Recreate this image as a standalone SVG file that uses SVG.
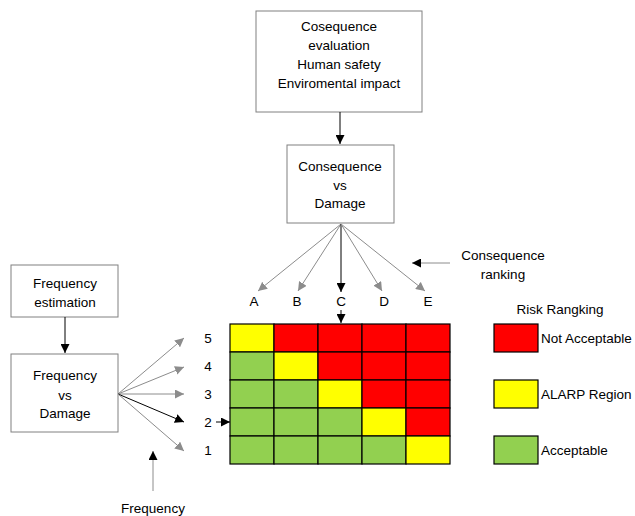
<svg xmlns="http://www.w3.org/2000/svg" width="635" height="516" viewBox="0 0 635 516">
<style>
text{font-family:"Liberation Sans",Arial,sans-serif;font-size:13.5px;fill:#000;text-anchor:middle;dominant-baseline:central}
.box{fill:#fff;stroke:#808080;stroke-width:1}
.cell{stroke:#000;stroke-width:1.2}
.r{fill:#ff0000}.y{fill:#ffff00}.g{fill:#92d050}
.gl{stroke:#8c8c8c;stroke-width:1;fill:none}
.bl{stroke:#000;stroke-width:1;fill:none}
.lt{text-anchor:start}
</style>
<defs>
<marker id="ag" viewBox="0 0 10 10" refX="10" refY="5" markerWidth="9" markerHeight="9" markerUnits="userSpaceOnUse" orient="auto"><path d="M0,0L10,5L0,10z" fill="#8c8c8c"/></marker>
<marker id="ab" viewBox="0 0 10 10" refX="10" refY="5" markerWidth="9" markerHeight="9" markerUnits="userSpaceOnUse" orient="auto"><path d="M0,0L10,5L0,10z" fill="#000"/></marker>
</defs>
<g id="n-evaluation"><rect class="box" x="256" y="11" width="166" height="101"/>
<text x="339" y="26">Cosequence</text><text x="339" y="45">evaluation</text><text x="339" y="64">Human safety</text><text x="339" y="83">Enviromental impact</text></g>
<g id="n-consequence"><rect class="box" x="287" y="145" width="107" height="78"/>
<text x="340" y="166">Consequence</text><text x="340" y="185">vs</text><text x="340" y="203">Damage</text></g>
<g id="n-freqest"><rect class="box" x="11" y="265" width="107" height="52"/>
<text x="65" y="283">Frequency</text><text x="65" y="302">estimation</text></g>
<g id="n-freqdmg"><rect class="box" x="11" y="354" width="107" height="78"/>
<text x="65" y="375">Frequency</text><text x="65" y="395">vs</text><text x="65" y="413">Damage</text></g>
<g id="labels">
<text x="503" y="255">Consequence</text><text x="503" y="274">ranking</text>
<text x="560" y="309">Risk Rangking</text>
<text x="254" y="301">A</text><text x="297" y="301">B</text><text x="341" y="301">C</text><text x="384" y="301">D</text><text x="428" y="301">E</text>
<text x="208" y="338">5</text><text x="208" y="366">4</text><text x="208" y="394">3</text><text x="208" y="422">2</text><text x="208" y="450">1</text>
<text x="153" y="508">Frequency</text>
</g>
<g id="n-matrix">
<rect class="cell y" x="230" y="324" width="44" height="28"/><rect class="cell r" x="274" y="324" width="44" height="28"/><rect class="cell r" x="318" y="324" width="44" height="28"/><rect class="cell r" x="362" y="324" width="44" height="28"/><rect class="cell r" x="406" y="324" width="44" height="28"/>
<rect class="cell g" x="230" y="352" width="44" height="28"/><rect class="cell y" x="274" y="352" width="44" height="28"/><rect class="cell r" x="318" y="352" width="44" height="28"/><rect class="cell r" x="362" y="352" width="44" height="28"/><rect class="cell r" x="406" y="352" width="44" height="28"/>
<rect class="cell g" x="230" y="380" width="44" height="28"/><rect class="cell g" x="274" y="380" width="44" height="28"/><rect class="cell y" x="318" y="380" width="44" height="28"/><rect class="cell r" x="362" y="380" width="44" height="28"/><rect class="cell r" x="406" y="380" width="44" height="28"/>
<rect class="cell g" x="230" y="408" width="44" height="28"/><rect class="cell g" x="274" y="408" width="44" height="28"/><rect class="cell g" x="318" y="408" width="44" height="28"/><rect class="cell y" x="362" y="408" width="44" height="28"/><rect class="cell r" x="406" y="408" width="44" height="28"/>
<rect class="cell g" x="230" y="436" width="44" height="28"/><rect class="cell g" x="274" y="436" width="44" height="28"/><rect class="cell g" x="318" y="436" width="44" height="28"/><rect class="cell g" x="362" y="436" width="44" height="28"/><rect class="cell y" x="406" y="436" width="44" height="28"/>
</g>
<g id="n-legend">
<rect class="cell r" x="494" y="324" width="44" height="28"/><text class="lt" x="541" y="338">Not Acceptable</text>
<rect class="cell y" x="494" y="380" width="44" height="28"/><text class="lt" x="541" y="394">ALARP Region</text>
<rect class="cell g" x="494" y="436" width="44" height="28"/><text class="lt" x="541" y="450">Acceptable</text>
</g>
<g id="connectors">
<line class="bl" x1="340" y1="112" x2="340" y2="144" marker-end="url(#ab)"/>
<line class="gl" x1="341" y1="224" x2="258" y2="291" marker-end="url(#ag)"/>
<line class="gl" x1="341" y1="224" x2="298" y2="291" marker-end="url(#ag)"/>
<line class="bl" x1="341" y1="224" x2="341" y2="292" marker-end="url(#ab)"/>
<line class="gl" x1="341" y1="224" x2="382" y2="291" marker-end="url(#ag)"/>
<line class="gl" x1="341" y1="224" x2="425" y2="291" marker-end="url(#ag)"/>
<line class="gl" x1="450" y1="263" x2="412" y2="263" marker-end="url(#ab)"/>
<line class="bl" x1="341" y1="310" x2="341" y2="323" marker-end="url(#ab)"/>
<line class="bl" x1="65" y1="317" x2="65" y2="353" marker-end="url(#ab)"/>
<line class="gl" x1="118" y1="394" x2="184" y2="338" marker-end="url(#ag)"/>
<line class="gl" x1="118" y1="394" x2="184" y2="367" marker-end="url(#ag)"/>
<line class="gl" x1="118" y1="394" x2="184" y2="394" marker-end="url(#ag)"/>
<line class="bl" x1="118" y1="394" x2="184" y2="422" marker-end="url(#ab)"/>
<line class="gl" x1="118" y1="394" x2="184" y2="451" marker-end="url(#ag)"/>
<line class="bl" x1="216" y1="422" x2="230" y2="422" marker-end="url(#ab)"/>
<line class="gl" x1="153" y1="491" x2="153" y2="451" marker-end="url(#ab)"/>
</g>
</svg>
